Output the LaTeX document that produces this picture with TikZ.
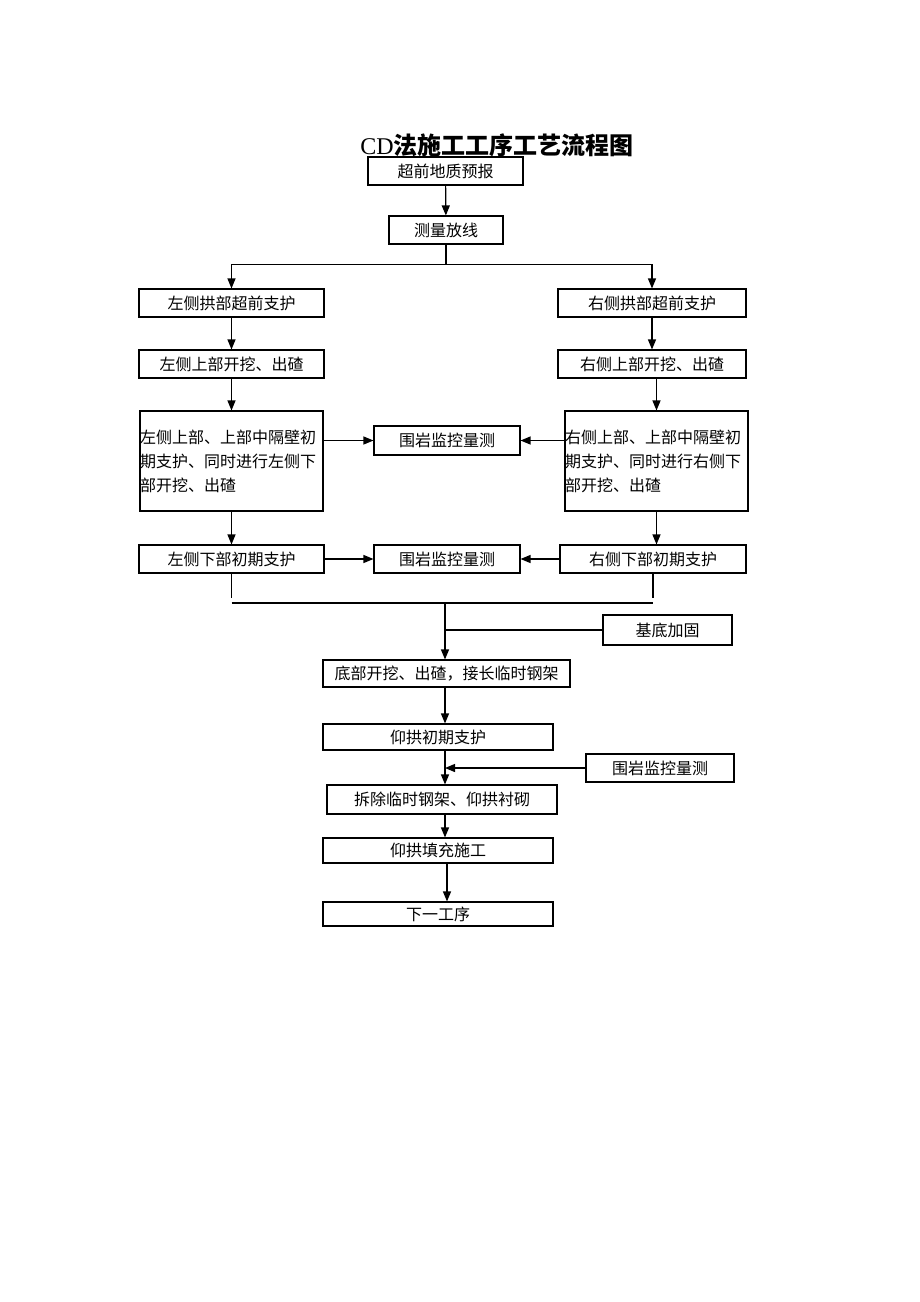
\documentclass[tikz,border=0pt]{standalone}
\usepackage{fontspec}
\setmainfont{Liberation Serif}
\newfontfamily\cjk{Noto Sans CJK SC}
\usetikzlibrary{arrows.meta}

\begin{document}
\begin{tikzpicture}[x=1pt,y=-1pt,
    box/.style = {draw, line width=1.1pt, inner sep=0pt, minimum height=28pt,
        font=\cjk\fontsize{16}{24}\selectfont},
    tallbox/.style = {box, minimum height=100pt, text width=183pt, align=left},
    arr/.style = {-{Triangle[length=10pt,width=8pt]}, line width=1.2pt},
    line/.style = {line width=1.2pt}]
\useasboundingbox[fill=white] (0,0) rectangle (920,1302);

\node (title) at (497,145) {\fontsize{24}{28}\selectfont CD\cjk\bfseries 法施工工序工艺流程图};

% top
\node[box, minimum width=155pt] (forecast) at (445.5,171) {超前地质预报};
\node[box, minimum width=114pt] (survey) at (446,230) {测量放线};

% left column
\node[box, minimum width=185pt] (left1) at (231.5,303) {左侧拱部超前支护};
\node[box, minimum width=185pt] (left2) at (231.5,364) {左侧上部开挖、出碴};
\node[tallbox] (left3) at (231.5,461)
    {左侧上部、上部中隔壁初\\期支护、同时进行左侧下\\部开挖、出碴};
\node[box, minimum width=185pt] (left4) at (231.5,559) {左侧下部初期支护};

% right column
\node[box, minimum width=188pt] (right1) at (652,303) {右侧拱部超前支护};
\node[box, minimum width=188pt] (right2) at (652,364) {右侧上部开挖、出碴};
\node[tallbox] (right3) at (656.5,461)
    {右侧上部、上部中隔壁初\\期支护、同时进行右侧下\\部开挖、出碴};
\node[box, minimum width=186pt] (right4) at (653,559) {右侧下部初期支护};

% monitoring in the middle
\node[box, minimum width=146pt, minimum height=29pt] (monA) at (447,440.5) {围岩监控量测};
\node[box, minimum width=146pt] (monB) at (447,559) {围岩监控量测};

% bottom part
\node[box, minimum width=129pt, minimum height=30pt] (base) at (667.5,630) {基底加固};
\node[box, minimum width=247pt, minimum height=27pt] (bottom) at (446.5,673.5) {底部开挖、出碴，接长临时钢架};
\node[box, minimum width=230pt, minimum height=26pt] (invert) at (438,737) {仰拱初期支护};
\node[box, minimum width=148pt] (monC) at (660,768) {围岩监控量测};
\node[box, minimum width=230pt, minimum height=29pt] (remove) at (442,799.5) {拆除临时钢架、仰拱衬砌};
\node[box, minimum width=230pt, minimum height=25pt] (fill) at (438,850.5) {仰拱填充施工};
\node[box, minimum width=230pt, minimum height=24pt] (next) at (438,914) {下一工序};

% connectors
\draw[arr] (forecast) -- (survey);
\draw[line] (survey.south) -- ++(0,20) coordinate (fork);
\draw[arr] (fork) -| (left1);
\draw[arr] (fork) -| (right1);
\draw[arr] (left1) -- (left2);
\draw[arr] (left2) -- (left3);
\draw[arr] (left3) -- (left4);
\draw[arr] (right1) -- (right2);
\draw[arr] (right2.south -| right3) -- (right3);
\draw[arr] (right3) -- (right3 |- right4.north);
\draw[arr] (left3.east |- monA) -- (monA);
\draw[arr] (right3.west |- monA) -- (monA);
\draw[arr] (left4) -- (monB);
\draw[arr] (right4) -- (monB);

\coordinate (merge) at (445,603);
\draw[line] (left4.south) -- ++(0,24);
\draw[line] (right4.south) -- ++(0,24);
\draw[line] (left4.south |- merge) -- (right4.south |- merge);
\draw[arr] (merge) -- (merge |- bottom.north);
\draw[line] (base.west) -- (merge |- base.west);
\draw[arr] (merge |- bottom.south) -- (merge |- invert.north);
\draw[arr] (merge |- invert.south) -- (merge |- remove.north);
\draw[arr] (monC.west) -- (merge |- monC.west);
\draw[arr] (merge |- remove.south) -- (merge |- fill.north);
\draw[arr] (fill.south -| 447,0) -- (next.north -| 447,0);
\end{tikzpicture}
\end{document}
